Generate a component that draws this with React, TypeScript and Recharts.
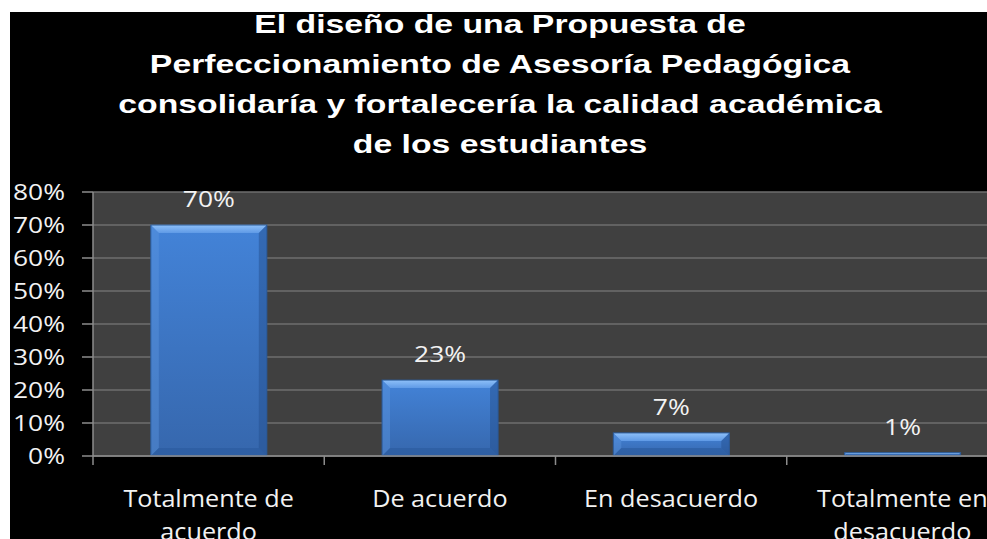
import { BarChart, Bar, XAxis, YAxis, CartesianGrid, LabelList } from "recharts";

const title = [
  "El diseño de una Propuesta de",
  "Perfeccionamiento de Asesoría Pedagógica",
  "consolidaría y fortalecería la calidad académica",
  "de los estudiantes",
];
const categories = ["Totalmente de acuerdo", "De acuerdo", "En desacuerdo", "Totalmente en desacuerdo"];
const values = [70, 23, 7, 1];
const yTicks = [0, 10, 20, 30, 40, 50, 60, 70, 80];

const data = categories.map((name, i) => ({ name, value: values[i] }));

const CHART_W = 1020;
const CHART_H = 527;
const MARGIN = { top: 180, right: 12, left: 0, bottom: 0 };
const Y_W = 83;
const X_H = 83;
const BAND = (CHART_W - MARGIN.right - MARGIN.left - Y_W) / categories.length;

const FONT = "'Open Sans', 'Noto Sans', sans-serif";
const TEXT = "#f2f2f2";

function splitLabel(s: string) {
  if (s.length <= 15) return [s];
  const i = s.lastIndexOf(" ");
  return [s.slice(0, i), s.slice(i + 1)];
}

function CategoryTick(props: any) {
  const { x, y, payload } = props;
  const lines = splitLabel(String(payload.value));
  return (
    <g>
      <line x1={x - BAND / 2} x2={x - BAND / 2} y1={y} y2={y + 9} stroke="#8c8c8c" strokeWidth={1.5} />
      {lines.map((l, i) => (
        <text
          key={i}
          x={x}
          y={y + 51 + i * 33}
          textAnchor="middle"
          fill={TEXT}
          fontSize={24}
          fontWeight={500}
          fontFamily={FONT}
          transform={`translate(${x} 0) scale(1.05 1) translate(${-x} 0)`}
        >
          {l}
        </text>
      ))}
    </g>
  );
}

function PercentTick(props: any) {
  const { x, y, payload } = props;
  return (
    <text
      transform={`translate(${x} ${y}) scale(1.2 1)`}
      dy="0.36em"
      textAnchor="end"
      fill={TEXT}
      fontSize={22}
      fontWeight={500}
      fontFamily={FONT}
    >
      {payload.value}%
    </text>
  );
}

function BevelBar(props: any) {
  const { x, y, width: w, height: h } = props;
  if (!h || h <= 0) return null;
  const b = Math.min(8, h / 2);
  return (
    <g>
      <rect x={x} y={y} width={w} height={h} fill="url(#barBody)" />
      <polygon points={`${x},${y} ${x + w},${y} ${x + w - b},${y + b} ${x + b},${y + b}`} fill="url(#barTop)" />
      <polygon points={`${x},${y} ${x + b},${y + b} ${x + b},${y + h - b} ${x},${y + h}`} fill="#5b95de" opacity={0.45} />
      <polygon points={`${x + w},${y} ${x + w - b},${y + b} ${x + w - b},${y + h - b} ${x + w},${y + h}`} fill="#24508f" opacity={0.5} />
      <polygon points={`${x},${y + h} ${x + b},${y + h - b} ${x + w - b},${y + h - b} ${x + w},${y + h}`} fill="#2a5a9c" opacity={0.6} />
      <rect x={x} y={y} width={w} height={h} fill="none" stroke="#2b5a98" strokeWidth={1} />
    </g>
  );
}

function ValueLabel(props: any) {
  const { x, y, width, value } = props;
  const cx = x + width / 2;
  return (
    <text
      transform={`translate(${cx} ${y - 18}) scale(1.2 1)`}
      textAnchor="middle"
      fill={TEXT}
      fontSize={22}
      fontWeight={500}
      fontFamily={FONT}
    >
      {value}%
    </text>
  );
}

export default function App() {
  return (
    <div
      style={{
        position: "absolute",
        left: 10,
        top: 12,
        width: 977,
        height: 527,
        overflow: "hidden",
        background: "#000",
      }}
    >
      <BarChart width={CHART_W} height={CHART_H} data={data} margin={MARGIN} barCategoryGap="25%">
        <defs>
          <linearGradient id="barBody" x1="0" y1="0" x2="0" y2="1">
            <stop offset="0%" stopColor="#4383d8" />
            <stop offset="100%" stopColor="#3667ad" />
          </linearGradient>
          <linearGradient id="barTop" x1="0" y1="0" x2="0" y2="1">
            <stop offset="0%" stopColor="#8ec0f8" />
            <stop offset="100%" stopColor="#5f9ae6" />
          </linearGradient>
        </defs>
        <CartesianGrid vertical={false} fill="#404040" stroke="#6e6e6e" strokeWidth={1.5} />
        <XAxis
          dataKey="name"
          height={X_H}
          interval={0}
          tickLine={false}
          tickSize={0}
          tickMargin={0}
          axisLine={{ stroke: "#8c8c8c", strokeWidth: 1.5 }}
          tick={<CategoryTick />}
        />
        <YAxis
          width={Y_W}
          domain={[0, 80]}
          ticks={yTicks}
          interval={0}
          tickSize={11}
          tickMargin={17}
          tickLine={{ stroke: "#8c8c8c", strokeWidth: 1.5 }}
          axisLine={{ stroke: "#8c8c8c", strokeWidth: 1.5 }}
          tick={<PercentTick />}
        />
        <Bar dataKey="value" shape={<BevelBar />} isAnimationActive={false}>
          <LabelList dataKey="value" content={<ValueLabel />} />
        </Bar>
      </BarChart>
      <div
        style={{
          position: "absolute",
          left: 0,
          top: -8,
          width: 980,
          textAlign: "center",
          color: "#fff",
          fontFamily: "'Liberation Sans', Arial, sans-serif",
          fontWeight: "bold",
          fontSize: 25,
          lineHeight: "40px",
          transform: "scaleX(1.35)",
          transformOrigin: "490px 0",
        }}
      >
        {title.map((t) => (
          <div key={t}>{t}</div>
        ))}
      </div>
    </div>
  );
}
